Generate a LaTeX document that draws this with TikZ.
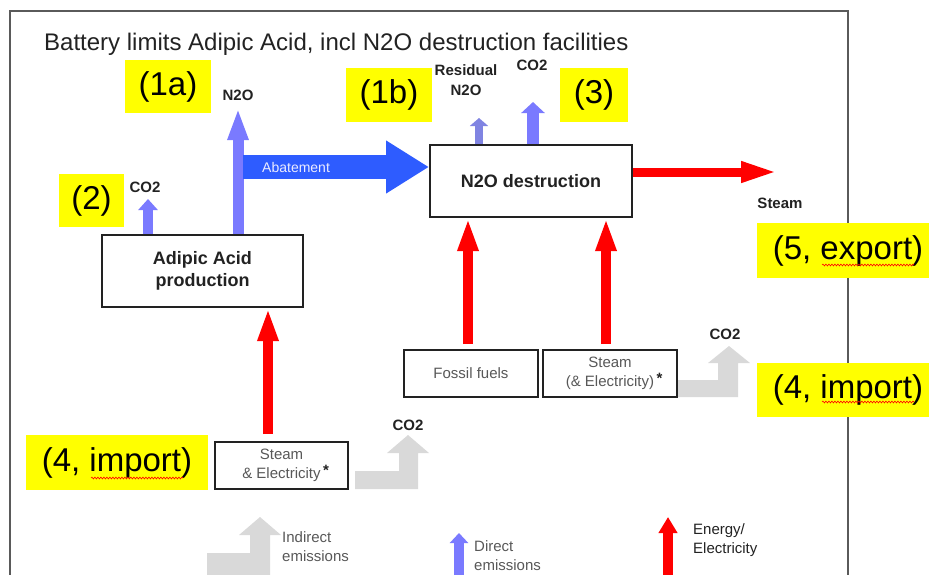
\documentclass[tikz,border=0pt]{standalone}
\usepackage{fontspec}
\setmainfont{Liberation Sans}
\usetikzlibrary{arrows.meta,positioning,calc,decorations.pathmorphing}
\definecolor{ink}{RGB}{34,34,34}
\definecolor{limitgray}{RGB}{90,90,90}
\definecolor{tagyellow}{RGB}{255,255,0}
\definecolor{directblue}{RGB}{122,122,255}
\definecolor{residblue}{RGB}{128,132,226}
\definecolor{abateblue}{RGB}{46,92,255}
\definecolor{energyred}{RGB}{255,0,0}
\definecolor{indirectgray}{RGB}{217,217,217}
\definecolor{textgray}{RGB}{88,88,88}
\newcommand{\fsz}[2]{\fontsize{#1}{#2}\selectfont}
\tikzset{
  limitline/.style={line width=1.5pt,limitgray},
  tagbox/.style={fill=tagyellow,inner sep=0pt,font=\fsz{33}{36}},
  procbox/.style={draw=ink,line width=2pt,fill=white,inner sep=0pt,align=center,
    text=ink,font=\bfseries\fsz{18}{22}},
  inbox/.style={draw=ink,line width=2pt,fill=white,inner sep=0pt,align=center,
    text=textgray,font=\fsz{15}{19},minimum width=134pt,minimum height=47pt},
  flowlabel/.style={font=\bfseries\fsz{15}{20},text=ink,align=center,inner sep=0pt},
  legendtext/.style={font=\fsz{15}{19},align=left,anchor=west,inner sep=0pt},
  direct/.style={directblue,line width=11pt,-{Triangle[length=32pt,width=19pt]}},
  energy/.style={energyred,line width=10.5pt,-{Triangle[length=33pt,width=19pt]}},
  abate/.style={abateblue,line width=24pt,-{Triangle[length=43pt,width=50pt]}},
  indirect/.style={fill=indirectgray},
  spell/.style={energyred,line width=0.6pt,decorate,
    decoration={snake,amplitude=0.9pt,segment length=3pt}}
}
\newcommand{\starmark}{\rlap{\,\raisebox{3pt}{\textcolor{ink}{\textbf{*}}}}}

\begin{document}
\begin{tikzpicture}[x=1pt,y=-1pt]
  \useasboundingbox (0,0) rectangle (929,574);
  % battery limits
  \draw[limitline] (10,580) -- (10,11) -- (848,11) -- (848,580);
  \node[anchor=west,text=ink,font=\fsz{24}{28},inner sep=0pt] (title) at (44,44)
    {Battery limits Adipic Acid, incl N2O destruction facilities};

  % indirect emissions (behind the boxes)
  \fill[indirect] (355,489) -- (418,489) -- (418,453) -- (429,453) -- (408,435)
    -- (387,453) -- (399,453) -- (399,471) -- (355,471) -- cycle;
  \fill[indirect] (665,397) -- (738,397) -- (738,363) -- (750,363) -- (729,346)
    -- (708,363) -- (718,363) -- (718,380) -- (665,380) -- cycle;
  \fill[indirect] (207,576) -- (270,576) -- (270,535) -- (281,535) -- (260,517)
    -- (239,535) -- (250,535) -- (250,553) -- (207,553) -- cycle;

  % boxes
  \node[procbox,minimum width=201pt,minimum height=72pt] (adipic) at (202.5,271)
    {Adipic Acid\\production};
  \node[procbox,minimum width=202pt,minimum height=72pt] (destr) at (531,181)
    {N2O destruction};
  \node[inbox] (fossil) at (471,373.5) {Fossil fuels};
  \node[inbox] (steamr) at (610,373.5) {Steam\\(\& Electricity)\starmark};
  \node[inbox,minimum width=133pt] (steaml) at (281.5,465.5) {Steam\\\& Electricity\starmark};

  % yellow tags
  \node[tagbox,minimum width=86pt,minimum height=53pt] (tag1a) at (168,86.5) {(1a)};
  \node[tagbox,minimum width=86pt,minimum height=54pt] (tag1b) at (389,95) {(1b)};
  \node[tagbox,minimum width=65pt,minimum height=53pt] (tag2) at (91.5,200.5) {(2)};
  \node[tagbox,minimum width=68pt,minimum height=54pt] (tag3) at (594,95) {(3)};
  \node[tagbox,minimum width=182pt,minimum height=55pt] (tag4l) at (117,462.5) {(4, import)};
  \node[tagbox,minimum width=182pt,minimum height=55pt] (tag5) at (848,250.5) {(5, export)};
  \node[tagbox,minimum width=182pt,minimum height=54pt] (tag4r) at (848,390) {(4, import)};
  \draw[spell] (822,265) -- (914,265);
  \draw[spell] (822,402) -- (914,402);
  \draw[spell] (91,478) -- (183,478);

  % direct emissions
  \coordinate (n2otip) at (238,108);
  \coordinate (co2atip) at (148,199);
  \coordinate (residtip) at (479,118);
  \coordinate (co2btip) at (533,102);
  \draw[direct] (adipic.north -| n2otip) -- (n2otip);
  \draw[direct,line width=10pt,-{Triangle[length=11pt,width=19pt]}] (adipic.north -| co2atip) -- (co2atip);
  \draw[direct,residblue,line width=8pt,-{Triangle[length=8pt,width=18pt]}] (destr.north -| residtip) -- (residtip);
  \draw[direct,line width=12pt,-{Triangle[length=11pt,width=23pt]}] (destr.north -| co2btip) -- (co2btip);
  \node[flowlabel] (n2olab) at (238,95) {N2O};
  \node[flowlabel] (co2alab) at (145,187) {CO2};
  \node[flowlabel] (residlab) at (466,80) {Residual\\N2O};
  \node[flowlabel] (co2blab) at (532,65) {CO2};

  % abatement
  \coordinate (abstart) at (243,167);
  \draw[abate] (abstart) -- (abstart -| destr.west);
  \node[anchor=west,inner sep=0pt,text=white!92!blue,font=\fsz{14}{16}] (ablab) at (262,167) {Abatement};

  % energy
  \coordinate (steamtip) at (778,172);
  \draw[energy,shorten <=5pt] ([xshift=-3pt]fossil.north) -- ([xshift=-3pt]fossil.north |- destr.south);
  \draw[energy,shorten <=5pt] ([xshift=-4pt]steamr.north) -- ([xshift=-4pt]steamr.north |- destr.south);
  \draw[energy,shorten <=7pt] ([xshift=-13.5pt]steaml.north) -- ([xshift=-13.5pt]steaml.north |- adipic.south);
  \draw[energy,line width=9pt,-{Triangle[length=37pt,width=19pt]}] (destr.east |- steamtip) -- (steamtip);
  \node[flowlabel] (steamlab) at (780,203) {Steam};
  \node[flowlabel] (co2clab) at (408,425) {CO2};
  \node[flowlabel] (co2dlab) at (725,334) {CO2};

  % legend
  \coordinate (legdirect) at (459,533);
  \coordinate (legdirect0) at (459,578);
  \coordinate (legenergy) at (668,517);
  \coordinate (legenergy0) at (668,580);
  \draw[direct,line width=10pt,-{Triangle[length=10pt,width=18pt]}] (legdirect0) -- (legdirect);
  \draw[energy,line width=10pt,-{Triangle[length=16pt,width=18pt]}] (legenergy0) -- (legenergy);
  \node[legendtext,text=textgray] (legind) at (282,547) {Indirect\\emissions};
  \node[legendtext,text=textgray] (legdir) at (474,556) {Direct\\emissions};
  \node[legendtext,text=ink] (legene) at (693,540) {Energy/\\Electricity};
\end{tikzpicture}
\end{document}
